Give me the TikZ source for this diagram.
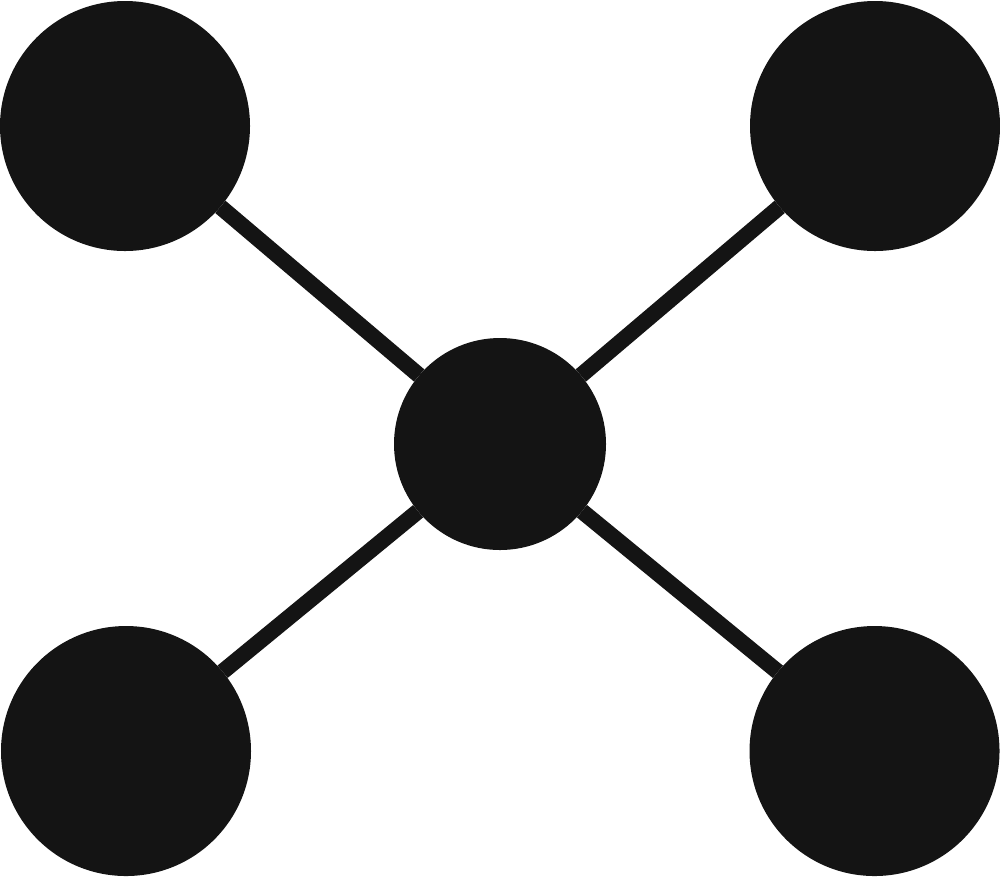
\documentclass[tikz,border=0pt]{standalone}
\usepackage{xcolor}
\usepackage{tikz}
\usetikzlibrary{arrows, positioning, calc}
\definecolor{hubblack}{RGB}{20,20,20}

\begin{document}
\begin{tikzpicture}[line width=0.16cm,
				main node/.style={circle,fill=hubblack,inner sep=0pt,outer sep=0pt,minimum size=2.5cm},
				hub node/.style={circle,fill=hubblack,inner sep=0pt,outer sep=0pt,minimum size=2.12cm}]
				\useasboundingbox (0,0) rectangle (10,8.79);
				
				\node[hub node] (c) at (5.0,4.35) {};
				\node[main node] (tl) at (1.25,7.53) {};
				\node[main node] (tr) at (8.75,7.53) {};
				\node[main node] (bl) at (1.26,1.28) {};
				\node[main node] (br) at (8.745,1.28) {};
				
				\path[draw=hubblack]
				
				(c) edge node {} (tl)
				(c) edge node {} (tr)
				(c) edge node {} (bl)
				(c) edge node {} (br);
			\end{tikzpicture}
\end{document}
